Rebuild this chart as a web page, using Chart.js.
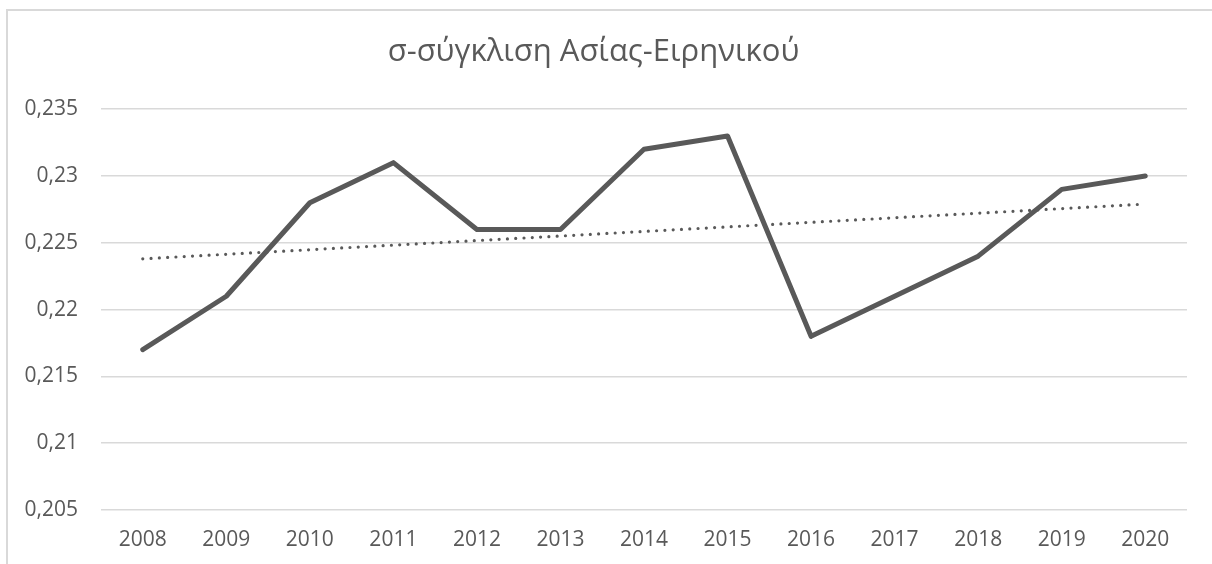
<!DOCTYPE html>
<html>
<head>
<meta charset="utf-8">
<script src="https://cdn.jsdelivr.net/npm/chart.js@4"></script>
<style>
  body { margin: 0; background: #fff; }
  .frame { position: absolute; left: 6px; top: 9px; width: 1400px; height: 800px; border: 2px solid #d9d9d9; }
  canvas { position: absolute; left: 0; top: 0; }
</style>
</head>
<body>
<div class="frame"></div>
<canvas id="myChart" width="1212" height="564"></canvas>
<script>
const title = 'σ-σύγκλιση Ασίας-Ειρηνικού';
const years = ['2008', '2009', '2010', '2011', '2012', '2013', '2014', '2015', '2016', '2017', '2018', '2019', '2020'];
const sigma = [0.217, 0.221, 0.228, 0.231, 0.226, 0.226, 0.232, 0.233, 0.218, 0.221, 0.224, 0.229, 0.230];
// linear trend, only the two ends
const trend = [0.2238, null, null, null, null, null, null, null, null, null, null, null, 0.2279];

const grey = '#595959';
const font = 'Open Sans';

const ctx = document.getElementById('myChart').getContext('2d');
const myChart = new Chart(ctx, {
  type: 'line',
  data: {
    labels: years,
    datasets: [
      {
        label: 'σ',
        data: sigma,
        borderColor: grey,
        borderWidth: 5,
        pointRadius: 0,
        borderJoinStyle: 'round',
        borderCapStyle: 'round',
        tension: 0,
      },
      {
        label: 'trend',
        data: trend,
        spanGaps: true,
        borderColor: grey,
        borderWidth: 3.2,
        borderDash: [0, 8.3],
        borderCapStyle: 'round',
        pointRadius: 0,
      },
    ],
  },
  options: {
    responsive: false,
    animation: false,
    layout: { padding: { left: 0, right: 25, top: 0, bottom: 0 } },
    plugins: {
      legend: { display: false },
      tooltip: { enabled: false },
      title: {
        display: true,
        text: title,
        color: grey,
        font: { family: font, size: 31, weight: 'normal' },
        padding: { top: 34, bottom: 38 },
      },
    },
    scales: {
      x: {
        offset: true,
        grid: { display: false, drawTicks: false },
        border: { display: false },
        ticks: { color: grey, font: { family: font, size: 21 }, padding: 17, maxRotation: 0 },
        afterFit: (axis) => { axis.height = 54; },
      },
      y: {
        min: 0.205,
        max: 0.235,
        grid: { color: '#d9d9d9', lineWidth: 1.5, drawTicks: false },
        border: { display: false },
        ticks: {
          stepSize: 0.005,
          color: grey,
          font: { family: font, size: 21 },
          padding: 23,
          callback: (v) => String(+v.toFixed(3)).replace('.', ','),
        },
        afterFit: (axis) => { axis.width = 101; },
      },
    },
  },
});
</script>
</body>
</html>
